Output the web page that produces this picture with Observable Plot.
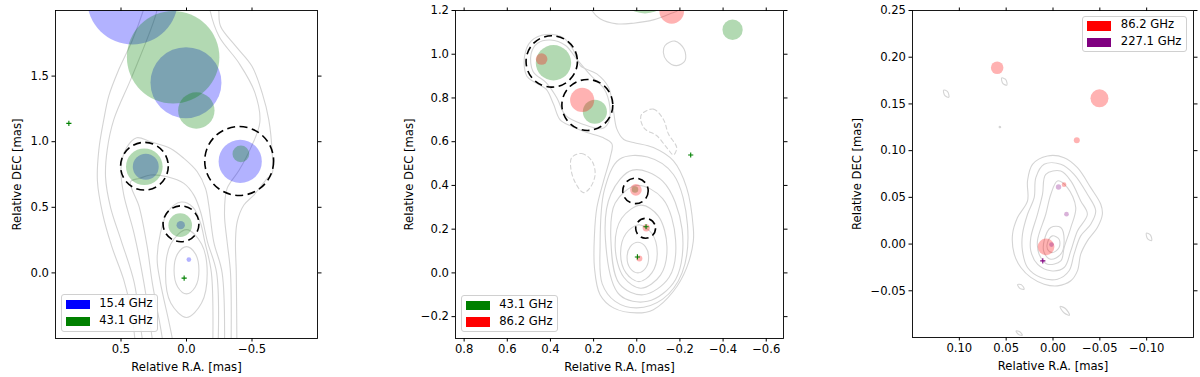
<!DOCTYPE html>
<html>
<head>
<meta charset="utf-8">
<script src="https://cdn.jsdelivr.net/npm/d3@7"></script>
<script src="https://cdn.jsdelivr.net/npm/@observablehq/plot@0.6"></script>
<style>
  html, body { margin: 0; padding: 0; background: #fff; }
  #wrap { position: relative; width: 1200px; height: 377px; overflow: hidden; font-family: "DejaVu Sans", sans-serif; }
  .panel { position: absolute; top: 0; }
  .legend { position: absolute; background: rgba(255,255,255,0.85); border: 1px solid #d0d0d0; border-radius: 3px; box-sizing: border-box; font-size: 11.6px; color: #000; }
  .legend .patch { position: absolute; }
  .legend .lab { position: absolute; white-space: nowrap; line-height: 1; }
</style>
</head>
<body>
<div id="wrap"></div>
<script>
// ================= DATA =================
// ---- Panel 1: 15.4 GHz vs 43.1 GHz ----
const p1XDomain = [1.0, -1.0];
const p1YDomain = [-0.5, 2.0];
const p1XTicks = [0.5, 0.0, -0.5];
const p1YTicks = [0.0, 0.5, 1.0, 1.5];
// [R.A., DEC, radius] in mas
const p1Comp154 = [
  [0.412, 2.087, 0.347], [0.004, 1.450, 0.271], [-0.410, 0.850, 0.165],
  [0.311, 0.809, 0.099], [0.044, 0.364, 0.032], [-0.018, 0.102, 0.018]
];
const p1Comp431 = [
  [0.102, 1.644, 0.353], [-0.075, 1.238, 0.139], [0.322, 0.809, 0.140],
  [-0.415, 0.907, 0.064], [0.048, 0.364, 0.090]
];
const p1Point431 = [[0.898, 1.140], [0.018, -0.040]];
const p1Rings = [[0.321, 0.813, 0.182], [-0.402, 0.853, 0.263], [0.042, 0.374, 0.137]];
const p1ClosedContours = [
  [[0.095,0.02],[0.067,0.147],[0,0.2],[-0.067,0.147],[-0.095,0.02],[-0.067,-0.107],[0,-0.16],[0.067,-0.107]],
  [[0.16,0.0],[0.12,0.22],[0.0,0.33],[-0.115,0.22],[-0.158,0.0],[-0.115,-0.23],[0.0,-0.34],[0.12,-0.23]]
];
const p1OpenContours = [
  [[0.1,-0.6],[0.109,-0.5],[0.2,-0.07],[0.224,0.1],[0.2,0.3],[0.14,0.47],[0.04,0.54],[-0.05,0.5],[-0.107,0.38],[-0.14,0.237],[-0.19,0.0],[-0.2,-0.6]],
  [[0.18,-0.6],[0.185,-0.5],[0.262,-0.07],[0.3,0.2],[0.36,0.5],[0.427,0.695],[0.36,0.72],[0.275,0.746],[0.147,0.733],[0.02,0.682],[-0.056,0.593],[-0.107,0.466],[-0.16,0.237],[-0.23,0.0],[-0.24,-0.6]],
  [[0.25,-0.6],[0.262,-0.5],[0.326,-0.07],[0.40,0.3],[0.48,0.6],[0.5,0.8],[0.46,0.95],[0.38,1.03],[0.275,1.0],[0.122,0.949],[0.02,0.873],[-0.082,0.771],[-0.145,0.644],[-0.17,0.517],[-0.208,0.237],[-0.272,0.0],[-0.29,-0.6]],
  [[0.32,-0.6],[0.338,-0.5],[0.40,-0.07],[0.5,0.25],[0.58,0.5],[0.618,0.73],[0.605,0.94],[0.555,1.168],[0.415,1.5],[0.237,1.957],[0.15,2.3],[-0.15,2.3],[-0.18,2.0],[-0.25,1.8],[-0.4,1.6],[-0.52,1.38],[-0.56,1.15],[-0.489,0.949],[-0.40,0.78],[-0.31,0.644],[-0.29,0.45],[-0.31,0.237],[-0.336,0.0],[-0.34,-0.6]],
  [[0.385,-0.6],[0.42,-0.3],[0.48,-0.05],[0.57,0.2],[0.64,0.45],[0.68,0.7],[0.669,0.94],[0.631,1.17],[0.593,1.35],[0.517,1.55],[0.415,1.77],[0.33,2.0],[0.25,2.3],[-0.25,2.3],[-0.247,2.0],[-0.26,1.88],[-0.374,1.73],[-0.5,1.575],[-0.578,1.37],[-0.628,1.168],[-0.654,0.914],[-0.654,0.756],[-0.616,0.72],[-0.514,0.593],[-0.438,0.517],[-0.387,0.389],[-0.374,0.237],[-0.38,0.0],[-0.385,-0.6]]
];

// ---- Panel 2: 43.1 GHz vs 86.2 GHz ----
const p2XDomain = [0.84, -0.68];
const p2YDomain = [-0.3, 1.2];
const p2XTicks = [0.8, 0.6, 0.4, 0.2, 0.0, -0.2, -0.4, -0.6];
const p2YTicks = [-0.2, 0.0, 0.2, 0.4, 0.6, 0.8, 1.0, 1.2];
const p2Comp431 = [
  [-0.038, 1.316, 0.131], [-0.444, 1.112, 0.047], [0.386, 0.961, 0.082],
  [0.194, 0.737, 0.056], [0.008, 0.381, 0.015]
];
const p2Point431 = [[-0.043, 0.211], [-0.003, 0.073], [-0.25, 0.539]];
const p2Comp862 = [
  [-0.162, 1.196, 0.057], [0.441, 0.978, 0.027], [0.253, 0.791, 0.056],
  [0.004, 0.380, 0.027], [-0.044, 0.206, 0.017], [-0.012, 0.066, 0.014]
];
const p2Rings = [[0.394, 0.967, 0.119], [0.229, 0.768, 0.118], [0.006, 0.375, 0.059], [-0.041, 0.204, 0.046]];
const p2ClosedContours = [
  [[0.045,0.07],[0.03,0.12],[-0.005,0.14],[-0.04,0.12],[-0.055,0.07],[-0.04,0.02],[-0.005,0.0],[0.03,0.02]],
  [[0.075,0.09],[0.05,0.18],[-0.01,0.22],[-0.07,0.18],[-0.095,0.09],[-0.07,0.0],[-0.01,-0.04],[0.05,0.0]],
  [[0.1,0.12],[0.07,0.25],[-0.02,0.31],[-0.1,0.26],[-0.14,0.12],[-0.11,-0.01],[-0.02,-0.07],[0.06,-0.02]],
  [[0.12,0.15],[0.1,0.32],[0.0,0.4],[-0.12,0.34],[-0.18,0.15],[-0.15,-0.02],[-0.03,-0.1],[0.08,-0.05]],
  [[0.145,0.15],[0.12,0.36],[0.02,0.47],[-0.12,0.42],[-0.21,0.2],[-0.18,-0.03],[-0.05,-0.13],[0.08,-0.1]],
  [[0.17,0.12],[0.15,0.38],[0.08,0.52],[-0.05,0.53],[-0.17,0.45],[-0.235,0.22],[-0.21,0.0],[-0.12,-0.12],[0.0,-0.16],[0.1,-0.13],[0.16,-0.05]],
  [[0.0,-0.183],[0.108,-0.16],[0.17,-0.1],[0.196,0.023],[0.196,0.176],[0.185,0.298],[0.154,0.42],[0.123,0.528],[0.115,0.59],[0.16,0.62],[0.231,0.642],[0.3,0.67],[0.355,0.7],[0.386,0.772],[0.42,0.84],[0.47,0.87],[0.51,0.9],[0.52,0.99],[0.49,1.06],[0.42,1.09],[0.34,1.075],[0.293,1.017],[0.262,0.948],[0.185,0.91],[0.131,0.849],[0.108,0.742],[0.093,0.66],[0.06,0.61],[0.015,0.596],[-0.077,0.573],[-0.17,0.512],[-0.231,0.39],[-0.262,0.206],[-0.262,0.145],[-0.231,0.023],[-0.17,-0.084],[-0.077,-0.168]],
  [[0.16,0.66],[0.25,0.68],[0.33,0.72],[0.37,0.8],[0.42,0.87],[0.48,0.92],[0.49,1.0],[0.46,1.05],[0.4,1.065],[0.33,1.04],[0.28,0.98],[0.21,0.9],[0.15,0.84],[0.125,0.76],[0.13,0.69]],
  [[-0.131,1.04],[-0.177,1.06],[-0.219,1.024],[-0.224,0.971],[-0.185,0.948],[-0.139,0.971],[-0.123,1.009]]
];
const p2OpenContours = [
  [[0.25,1.3],[0.208,1.2],[0.17,1.162],[0.093,1.139],[0.015,1.142],[-0.077,1.157],[-0.154,1.185],[-0.193,1.203],[-0.22,1.3]]
];
const p2NegativeContours = [
  [[0.301,0.528],[0.255,0.546],[0.208,0.512],[0.193,0.451],[0.216,0.39],[0.247,0.367],[0.285,0.413],[0.306,0.482]],
  [[-0.023,0.726],[-0.077,0.749],[-0.123,0.703],[-0.147,0.635],[-0.185,0.573],[-0.17,0.54],[-0.139,0.573],[-0.093,0.627],[-0.039,0.657],[-0.019,0.696]]
];

// ---- Panel 3: 86.2 GHz vs 227.1 GHz ----
const p3XDomain = [0.15, -0.15];
const p3YDomain = [-0.1, 0.25];
const p3XTicks = [0.10, 0.05, 0.0, -0.05, -0.10];
const p3YTicks = [-0.05, 0.0, 0.05, 0.10, 0.15, 0.20, 0.25];
const p3Comp862 = [
  [0.0596, 0.1887, 0.0067], [-0.0496, 0.156, 0.0096], [-0.0254, 0.111, 0.0032],
  [-0.0118, 0.0636, 0.0025], [0.0074, -0.003, 0.0089]
];
const p3Comp2271 = [
  [-0.0059, 0.0611, 0.0029], [-0.0144, 0.032, 0.0025], [0.0016, -0.0005, 0.0025]
];
const p3Point2271 = [[0.0109, -0.018]];
const p3ClosedContours = [
  [[0.0432,0.0105],[0.0379,0.0284],[0.0272,0.0462],[0.0272,0.0676],[0.0219,0.0854],[0.0059,0.0943],[-0.0119,0.0925],[-0.0261,0.0818],[-0.0403,0.0604],[-0.051,0.0426],[-0.0527,0.0319],[-0.0474,0.0177],[-0.0367,0.0034],[-0.0296,-0.0108],[-0.0261,-0.0287],[-0.019,-0.0393],[-0.0048,-0.0447],[0.0095,-0.0429],[0.0237,-0.0357],[0.0343,-0.0251],[0.0414,-0.0108]],
  [[0.0326,0.0105],[0.0272,0.0319],[0.0201,0.0497],[0.0183,0.0711],[0.0095,0.0854],[-0.0083,0.0854],[-0.0225,0.0747],[-0.0367,0.0533],[-0.0456,0.0355],[-0.0403,0.0212],[-0.0296,0.0088],[-0.0225,-0.0108],[-0.0172,-0.0286],[-0.0048,-0.0376],[0.013,-0.0358],[0.0272,-0.0251],[0.0326,-0.0073]],
  [[0.0237,0.007],[0.0166,0.0319],[0.0112,0.0533],[0.0077,0.0747],[-0.0083,0.0782],[-0.019,0.0676],[-0.0296,0.0462],[-0.0367,0.0319],[-0.0261,0.0141],[-0.019,-0.0073],[-0.0119,-0.0251],[0.0023,-0.0286],[0.0166,-0.0215],[0.0237,-0.0073]],
  [[0.0166,0.0034],[0.0077,0.0319],[0.0023,0.0533],[-0.0048,0.0676],[-0.0154,0.0604],[-0.0243,0.039],[-0.019,0.0177],[-0.0119,-0.0037],[-0.0083,-0.018],[0.0059,-0.0215],[0.0148,-0.0108]],
  [[0.0095,0.0034],[0.0023,0.0177],[-0.0083,0.0177],[-0.0119,0.0034],[-0.0083,-0.0108],[0.0023,-0.0162],[0.0095,-0.0091]],
  [[0.0059,0.0016],[0.0006,0.0088],[-0.0065,0.0052],[-0.0065,-0.0037],[0.0006,-0.0091],[0.0059,-0.0055]],
  [[0.0548,0.1778],[0.0506,0.1762],[0.0492,0.1702],[0.0534,0.1718]],
  [[0.1168,0.1648],[0.1126,0.1632],[0.1112,0.1572],[0.1154,0.1588]],
  [[0.0575,0.1256],[0.0563,0.1258],[0.0559,0.1248],[0.0571,0.1246]],
  [[-0.0997,0.0117],[-0.1039,0.0099],[-0.1053,0.0037],[-0.1011,0.0055]],
  [[0.0378,-0.0432],[0.0336,-0.0437],[0.0308,-0.0482],[0.035,-0.0477]],
  [[-0.0075,-0.0668],[-0.0132,-0.069],[-0.0177,-0.076],[-0.012,-0.0738]],
  [[0.0395,-0.093],[0.0355,-0.0938],[0.0327,-0.0976],[0.0367,-0.0968]]
];

const freqLabels = { f154: "15.4 GHz", f431: "43.1 GHz", f862: "86.2 GHz", f2271: "227.1 GHz" };
const freqColors = { f154: "#0000ff", f431: "#008000", f862: "#ff0000", f2271: "#800080" };

// ================= DRAWING =================
const CONTOUR = "#d4d4d4";
const rows = list => list.map(([ra, dec, size]) => ({ ra, dec, size }));
const lineRows = list => list.flatMap((c, i) => c.map(([ra, dec]) => ({ id: i, ra, dec })));

function panel(cfg) {
  const pw = cfg.width - cfg.ml - cfg.mr;
  const k = pw / Math.abs(cfg.xDomain[1] - cfg.xDomain[0]);
  const marks = [];
  if (cfg.closed) marks.push(Plot.line(lineRows(cfg.closed), { x: "ra", y: "dec", z: "id", curve: "catmull-rom-closed", stroke: CONTOUR, strokeWidth: 1.1, clip: true }));
  if (cfg.open) marks.push(Plot.line(lineRows(cfg.open), { x: "ra", y: "dec", z: "id", curve: "catmull-rom", stroke: CONTOUR, strokeWidth: 1.1, clip: true }));
  if (cfg.negative) marks.push(Plot.line(lineRows(cfg.negative), { x: "ra", y: "dec", z: "id", curve: "catmull-rom-closed", stroke: CONTOUR, strokeWidth: 1.1, strokeDasharray: "4,3", clip: true }));
  for (const s of cfg.series) {
    marks.push(Plot.dot(rows(s.data), { x: "ra", y: "dec", r: "size", fill: freqColors[s.key], fillOpacity: 0.3, clip: true }));
  }
  for (const p of (cfg.points || [])) {
    marks.push(Plot.dot(rows(p.data), { x: "ra", y: "dec", symbol: "plus", r: 1.8, stroke: freqColors[p.key], strokeWidth: 1.1, clip: true }));
  }
  if (cfg.rings) marks.push(Plot.dot(rows(cfg.rings), { x: "ra", y: "dec", r: "size", fill: "none", stroke: "black", strokeWidth: 1.6, strokeDasharray: "8,4.5", clip: true }));
  const fmt = d3.format(cfg.fmt);
  marks.push(
    Plot.axisX(cfg.xTicks, { anchor: "bottom", tickSize: 3.5, tickPadding: 3, tickFormat: fmt, label: "Relative R.A. [mas]", labelAnchor: "center", labelArrow: "none", labelOffset: cfg.xLabelOffset }),
    Plot.axisX(cfg.xTicks, { anchor: "top", tickSize: 3.5, tickFormat: () => "", label: null }),
    Plot.axisY(cfg.yTicks, { anchor: "left", tickSize: 3.5, tickPadding: 3, tickFormat: fmt, label: "Relative DEC [mas]", labelAnchor: "center", labelArrow: "none", labelOffset: cfg.yLabelOffset }),
    Plot.axisY(cfg.yTicks, { anchor: "right", tickSize: 3.5, tickFormat: () => "", label: null }),
    Plot.frame({ stroke: "black", strokeWidth: 0.9 })
  );
  const svg = Plot.plot({
    width: cfg.width, height: cfg.height,
    marginTop: cfg.mt, marginRight: cfg.mr, marginBottom: cfg.mb, marginLeft: cfg.ml,
    x: { domain: cfg.xDomain },
    y: { domain: cfg.yDomain },
    r: { type: "linear", domain: [0, 1], range: [0, k] },
    style: { fontFamily: "DejaVu Sans", fontSize: "11.6px", color: "black", background: "transparent", overflow: "visible" },
    marks
  });
  svg.classList.add("panel");
  svg.style.left = cfg.left + "px";
  return svg;
}

function legend(left, top, w, h, keys) {
  const box = document.createElement("div");
  box.className = "legend";
  Object.assign(box.style, { left: left + "px", top: top + "px", width: w + "px", height: h + "px" });
  keys.forEach((key, i) => {
    const cy = 9.3 + i * 16.7;
    const p = document.createElement("div");
    p.className = "patch";
    Object.assign(p.style, { left: "4px", top: (cy - 4.7) + "px", width: "24px", height: "9.4px", background: freqColors[key] });
    const t = document.createElement("div");
    t.className = "lab";
    Object.assign(t.style, { left: "37.5px", top: (cy - 6.5) + "px" });
    t.textContent = freqLabels[key];
    box.append(p, t);
  });
  return box;
}

const wrap = document.getElementById("wrap");
wrap.append(
  panel({ left: 0, width: 330, height: 377, mt: 10, mr: 13, mb: 39, ml: 55,
    xDomain: p1XDomain, yDomain: p1YDomain, xTicks: p1XTicks, yTicks: p1YTicks, fmt: ".1f",
    xLabelOffset: 32, yLabelOffset: 43,
    closed: p1ClosedContours, open: p1OpenContours,
    series: [{ key: "f154", data: p1Comp154 }, { key: "f431", data: p1Comp431 }],
    points: [{ key: "f431", data: p1Point431 }],
    rings: p1Rings }),
  panel({ left: 400, width: 393, height: 377, mt: 10, mr: 10, mb: 39, ml: 55,
    xDomain: p2XDomain, yDomain: p2YDomain, xTicks: p2XTicks, yTicks: p2YTicks, fmt: ".1f",
    xLabelOffset: 32, yLabelOffset: 51,
    closed: p2ClosedContours, open: p2OpenContours, negative: p2NegativeContours,
    series: [{ key: "f431", data: p2Comp431 }, { key: "f862", data: p2Comp862 }],
    points: [{ key: "f431", data: p2Point431 }],
    rings: p2Rings }),
  panel({ left: 830, width: 370, height: 377, mt: 10, mr: 7, mb: 40, ml: 82,
    xDomain: p3XDomain, yDomain: p3YDomain, xTicks: p3XTicks, yTicks: p3YTicks, fmt: ".2f",
    xLabelOffset: 32, yLabelOffset: 60,
    closed: p3ClosedContours,
    series: [{ key: "f862", data: p3Comp862 }, { key: "f2271", data: p3Comp2271 }],
    points: [{ key: "f2271", data: p3Point2271 }] }),
  legend(60.7, 294.3, 97, 37.4, ["f154", "f431"]),
  legend(460.7, 295, 97, 37.4, ["f431", "f862"]),
  legend(1082.3, 15.7, 104.4, 36.6, ["f862", "f2271"])
);
</script>
</body>
</html>
